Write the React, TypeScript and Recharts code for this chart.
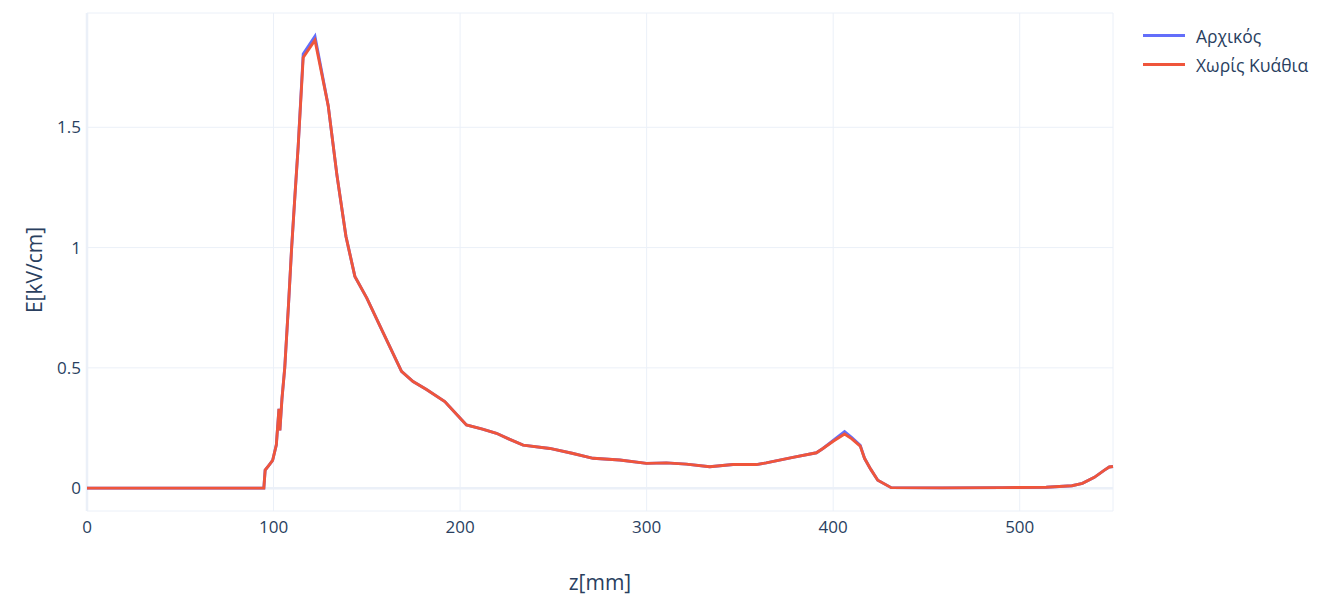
import React from "react";
import {
  LineChart,
  Line,
  XAxis,
  YAxis,
  CartesianGrid,
  ReferenceLine,
} from "recharts";

// z positions in mm
const zValues = [
  0, 20, 40, 60, 80, 94.8, 95.5, 97.5, 99.5, 101.5, 102.9, 103.4, 104.5, 106,
  108, 109.7, 111.5, 113.2, 115.9, 122.2, 129.3, 134, 138.8, 143.6, 150, 158.8,
  168.6, 174.8, 182, 191.8, 203.4, 212, 219.5, 226, 233.8, 248.1, 260, 271.3,
  285.6, 299.9, 310.6, 321.3, 333.8, 346.3, 358.8, 364.1, 378.4, 391, 394.5,
  400, 406.1, 410, 414.5, 416.8, 420, 423.9, 431.1, 458.6, 490.8, 514.2, 528,
  533.6, 540, 545.4, 548, 550,
];

// E field, Αρχικός
const eInitial = [
  0, 0, 0, 0, 0, 0, 0.075, 0.095, 0.115, 0.18, 0.33, 0.24, 0.37, 0.5, 0.76,
  1.0, 1.22, 1.42, 1.805, 1.878, 1.59, 1.3, 1.047, 0.88, 0.79, 0.645, 0.485,
  0.443, 0.41, 0.36, 0.2625, 0.245, 0.228, 0.205, 0.179, 0.165, 0.145, 0.124,
  0.117, 0.103, 0.105, 0.1, 0.089, 0.098, 0.098, 0.105, 0.128, 0.147, 0.165,
  0.198, 0.235, 0.21, 0.178, 0.124, 0.08, 0.033, 0.002, 0.001, 0.002, 0.004,
  0.01, 0.02, 0.045, 0.075, 0.088, 0.09,
];

// E field, Χωρίς Κυάθια
const eNoCups = [
  0, 0, 0, 0, 0, 0, 0.075, 0.095, 0.115, 0.18, 0.33, 0.24, 0.37, 0.5, 0.76,
  1.0, 1.22, 1.42, 1.79, 1.862, 1.59, 1.3, 1.047, 0.88, 0.79, 0.645, 0.485,
  0.443, 0.41, 0.36, 0.2625, 0.245, 0.228, 0.205, 0.179, 0.165, 0.145, 0.124,
  0.117, 0.103, 0.105, 0.1, 0.089, 0.098, 0.098, 0.105, 0.128, 0.147, 0.165,
  0.195, 0.225, 0.205, 0.175, 0.124, 0.08, 0.033, 0.002, 0.001, 0.002, 0.004,
  0.01, 0.02, 0.045, 0.075, 0.088, 0.09,
];

const xTicks = [0, 100, 200, 300, 400, 500];
const yTicks = [0, 0.5, 1, 1.5];

const series = [
  { key: "initial", name: "Αρχικός", color: "#636efa" },
  { key: "noCups", name: "Χωρίς Κυάθια", color: "#ef553b" },
];

const data = zValues.map((z, i) => ({
  z,
  initial: eInitial[i],
  noCups: eNoCups[i],
}));

const FONT = '"Open Sans", "Noto Sans", sans-serif';
const TEXT = "#2a3f5f";
const GRID = "#ebf0f8";

export default function App() {
  return (
    <div style={{ position: "relative", width: 1302, height: 589, fontFamily: FONT }}>
      <LineChart
        width={1302}
        height={589}
        data={data}
        margin={{ top: 5, right: 197, bottom: 0, left: 0 }}
      >
        <CartesianGrid stroke={GRID} strokeWidth={1} />
        <XAxis
          dataKey="z"
          type="number"
          domain={[0, 550]}
          ticks={xTicks}
          height={86}
          axisLine={false}
          tickLine={false}
          tickSize={0}
          tickMargin={10}
          tick={{ fill: TEXT, fontSize: 17, fontFamily: FONT }}
          label={{
            content: ({ viewBox }: any) => (
              <text
                x={viewBox.x + viewBox.width / 2}
                y={viewBox.y + 79}
                textAnchor="middle"
                fill={TEXT}
                fontSize={21}
                fontFamily={FONT}
              >
                z[mm]
              </text>
            ),
          }}
        />
        <YAxis
          type="number"
          domain={[-0.095, 1.975]}
          ticks={yTicks}
          width={79}
          allowDataOverflow
          axisLine={false}
          tickLine={false}
          tickSize={0}
          tickMargin={6}
          tick={{ fill: TEXT, fontSize: 17, fontFamily: FONT }}
          label={{
            content: ({ viewBox }: any) => {
              const cx = viewBox.x + 26;
              const cy = viewBox.y + viewBox.height / 2 + 8;
              return (
                <text
                  x={cx}
                  y={cy}
                  transform={`rotate(-90, ${cx}, ${cy})`}
                  textAnchor="middle"
                  dominantBaseline="central"
                  fill={TEXT}
                  fontSize={21}
                  fontFamily={FONT}
                >
                  E[kV/cm]
                </text>
              );
            },
          }}
        />
        <ReferenceLine y={0} stroke={GRID} strokeWidth={2.5} />
        <ReferenceLine x={0} stroke={GRID} strokeWidth={2.5} />
        {series.map((s) => (
          <Line
            key={s.key}
            type="linear"
            dataKey={s.key}
            name={s.name}
            stroke={s.color}
            strokeWidth={2.9}
            dot={false}
            activeDot={false}
            isAnimationActive={false}
          />
        ))}
      </LineChart>
      <div style={{ position: "absolute", left: 1135, top: 13 }}>
        {series.map((s) => (
          <div
            key={s.key}
            style={{ display: "flex", alignItems: "center", height: 29 }}
          >
            <div
              style={{ width: 42, height: 3, background: s.color, marginRight: 11 }}
            />
            <span style={{ color: TEXT, fontSize: 17.5, fontFamily: FONT }}>
              {s.name}
            </span>
          </div>
        ))}
      </div>
    </div>
  );
}
